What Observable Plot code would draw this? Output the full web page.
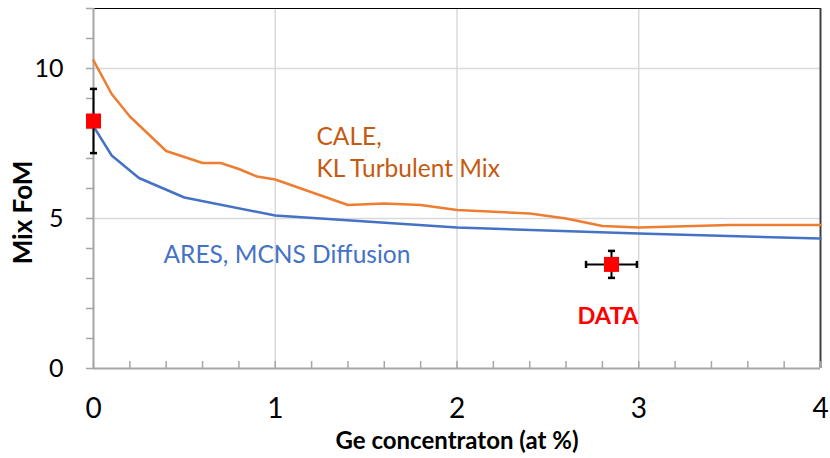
<!DOCTYPE html>
<html>
<head>
<meta charset="utf-8">
<script src="https://cdn.jsdelivr.net/npm/d3@7"></script>
<script src="https://cdn.jsdelivr.net/npm/@observablehq/plot@0.6"></script>
<style>
  body { margin: 0; background: #fff; }
</style>
</head>
<body>
<div id="chart"></div>
<script>
// CALE simulation, KL turbulent mix model
const caleX = [0, 0.1, 0.2, 0.4, 0.6, 0.7, 0.8, 0.9, 1.0, 1.4, 1.6, 1.8, 2.0, 2.4, 2.6, 2.8, 3.0, 3.5, 4.0];
const caleY = [10.27, 9.15, 8.4, 7.25, 6.85, 6.85, 6.65, 6.4, 6.3, 5.45, 5.5, 5.45, 5.28, 5.17, 5.0, 4.75, 4.7, 4.78, 4.78];

// ARES simulation, MCNS diffusion model
const aresX = [0, 0.1, 0.25, 0.5, 1.0, 2.0, 3.0, 4.0];
const aresY = [8.07, 7.1, 6.35, 5.7, 5.1, 4.7, 4.5, 4.33];

// Measured points with uncertainties
const dataX = [0, 2.85];
const dataY = [8.25, 3.47];
const dataXErr = [0, 0.14];
const dataYErr = [1.07, 0.45];

// Ticks and grid
const xLabels = [0, 1, 2, 3, 4];
const xMinor = d3.range(0, 4.0001, 0.2).map(v => +v.toFixed(1));
const xGrid = [1, 2, 3];
const yLabels = [0, 5, 10];
const yMinor = d3.range(0, 13);
const yGrid = [5, 10];

// Series annotations (anchored in data units)
const caleNote = {x: 1.227, y: 6.39, text: "CALE,\nKL Turbulent Mix"};
const aresNote = {x: 0.385, y: 3.51, text: "ARES, MCNS Diffusion"};
const dataNote = {x: 2.83, y: 1.47, text: "DATA"};
const yTitle = {x: 0, y: 5.2, text: "Mix FoM"};

const cale = caleX.map((x, i) => ({x, y: caleY[i]}));
const ares = aresX.map((x, i) => ({x, y: aresY[i]}));
const points = dataX.map((x, i) => ({x, y: dataY[i], xErr: dataXErr[i], yErr: dataYErr[i]}));
const xPoints = points.filter(d => d.xErr > 0);

// Short error-bar caps as custom symbols
const hCap = {draw(ctx, size) { const r = Math.sqrt(size) / 2; ctx.moveTo(-r, 0); ctx.lineTo(r, 0); }};
const vCap = {draw(ctx, size) { const r = Math.sqrt(size) / 2; ctx.moveTo(0, -r); ctx.lineTo(0, r); }};

const axisGray = "#a6a6a6";
const gridGray = "#d9d9d9";
const capStyle = {r: 4, fill: "none", stroke: "black", strokeWidth: 2.5};

const chart = Plot.plot({
  width: 830,
  height: 458,
  marginLeft: 93,
  marginRight: 10,
  marginTop: 8,
  marginBottom: 90,
  x: {domain: [0, 4]},
  y: {domain: [0, 12]},
  style: {fontFamily: "Lato, sans-serif", background: "white", color: "black"},
  marks: [
    // gridlines
    Plot.ruleX(xGrid, {stroke: gridGray, strokeWidth: 1.5}),
    Plot.ruleY(yGrid, {stroke: gridGray, strokeWidth: 1.5}),
    // plot border
    Plot.ruleY([12], {stroke: "black", strokeWidth: 1}),
    Plot.ruleX([4], {stroke: "#404040", strokeWidth: 2}),
    // minor ticks
    Plot.tickX(xMinor, {x: d => d, stroke: axisGray, strokeWidth: 1.5, insetTop: 353}),
    Plot.axisY(yMinor, {tickSize: 7, tickFormat: () => "", stroke: axisGray, strokeWidth: 1.5, label: null}),
    // axes lines
    Plot.ruleX([0], {stroke: axisGray, strokeWidth: 2}),
    Plot.ruleY([0], {stroke: axisGray, strokeWidth: 2}),
    // tick labels
    Plot.axisY(yLabels, {tickSize: 0, tickPadding: 30, fontSize: 25, label: null, fill: "black", tickFormat: d3.format("d")}),
    Plot.axisX(xLabels, {tickSize: 0, tickPadding: 30, fontSize: 28, label: null, fill: "black", tickFormat: d3.format("d")}),
    // axis titles
    Plot.text(["Ge concentraton (at %)"], {frameAnchor: "bottom", dy: 80, fontSize: 24, fontWeight: "bold", fill: "black"}),
    Plot.text([yTitle], {x: "x", y: "y", text: "text", dx: -70, rotate: -90, fontSize: 26, fontWeight: "bold", fill: "black"}),
    // model curves
    Plot.line(cale, {x: "x", y: "y", stroke: "#ed7d31", strokeWidth: 2.5}),
    Plot.line(ares, {x: "x", y: "y", stroke: "#4472c4", strokeWidth: 2.5}),
    // annotations
    Plot.text([caleNote], {x: "x", y: "y", text: "text", fill: "#c55a11", textAnchor: "start", lineAnchor: "bottom", lineHeight: 1.31, fontSize: 24.5}),
    Plot.text([aresNote], {x: "x", y: "y", text: "text", fill: "#4472c4", textAnchor: "start", lineAnchor: "bottom", fontSize: 24.5}),
    Plot.text([dataNote], {x: "x", y: "y", text: "text", fill: "#ff0000", textAnchor: "middle", lineAnchor: "bottom", fontSize: 23.5, fontWeight: "bold"}),
    // error bars
    Plot.ruleX(points, {x: "x", y1: d => d.y - d.yErr, y2: d => d.y + d.yErr, stroke: "black", strokeWidth: 2}),
    Plot.ruleY(xPoints, {y: "y", x1: d => d.x - d.xErr, x2: d => d.x + d.xErr, stroke: "black", strokeWidth: 2}),
    Plot.dot(points, {x: "x", y: d => d.y + d.yErr, symbol: hCap, ...capStyle}),
    Plot.dot(points, {x: "x", y: d => d.y - d.yErr, symbol: hCap, ...capStyle}),
    Plot.dot(xPoints, {x: d => d.x - d.xErr, y: "y", symbol: vCap, ...capStyle}),
    Plot.dot(xPoints, {x: d => d.x + d.xErr, y: "y", symbol: vCap, ...capStyle}),
    // measured values
    Plot.dot(points, {x: "x", y: "y", symbol: "square", r: 8.46, fill: "#ff0000", stroke: "none"})
  ]
});

document.getElementById("chart").append(chart);
</script>
</body>
</html>
